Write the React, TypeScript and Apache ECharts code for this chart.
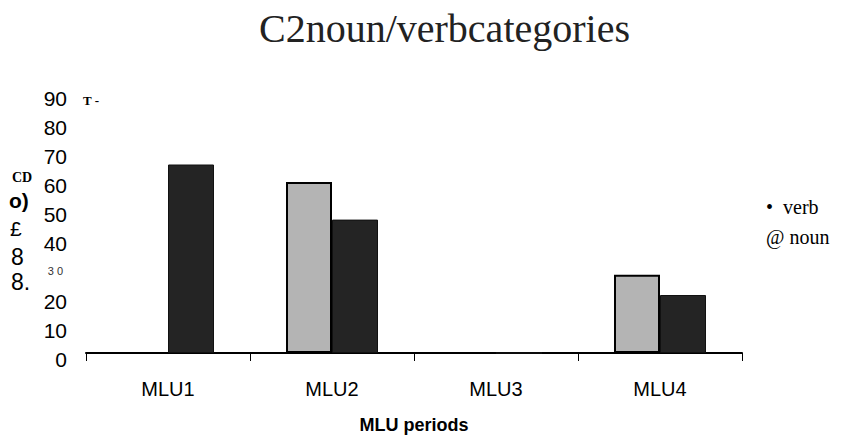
import React, { useEffect, useRef } from "react";
import * as echarts from "echarts";

const categories = ["MLU1", "MLU2", "MLU3", "MLU4"];
const nounValues = [0, 59, 0, 27];
const verbValues = [65, 46, 0, 20];
const yMin = 0;
const yMax = 90;
const yStep = 10;
const titleText = "C2noun/verbcategories";
const xAxisTitle = "MLU periods";
const yAxisGlyphs = ["CD", "o)", "£", "8", "8."];
const topMarkText = "T -";

export default function App() {
  const ref = useRef<HTMLDivElement>(null);
  useEffect(() => {
    document.body.style.margin = "0";
    const chart = echarts.init(ref.current!, undefined, { renderer: "svg" });
    const sans = "Liberation Sans, Arial, sans-serif";
    const serif = "Liberation Serif, Times New Roman, serif";
    chart.setOption({
      animation: false,
      backgroundColor: "#ffffff",
      title: {
        text: titleText,
        left: 254,
        top: 3,
        textStyle: { fontFamily: serif, fontSize: 40, fontWeight: "normal", color: "#222" },
      },
      legend: {
        orient: "vertical",
        left: 756,
        top: 192,
        icon: "none",
        itemWidth: 0,
        itemHeight: 0,
        itemGap: 10,
        data: ["verb", "noun"],
        formatter: (n: string) => (n === "verb" ? "•  verb" : "@ noun"),
        textStyle: { fontFamily: serif, fontSize: 20, color: "#000" },
      },
      grid: { left: 86, right: 102, top: 92, bottom: 92, containLabel: false },
      xAxis: {
        type: "category",
        data: categories,
        axisLine: { show: true, lineStyle: { color: "#000", width: 2 } },
        axisTick: { show: true, length: 8, lineStyle: { color: "#000" } },
        axisLabel: { fontFamily: sans, fontSize: 20, color: "#000", margin: 26 },
        name: xAxisTitle,
        nameLocation: "middle",
        nameGap: 63,
        nameTextStyle: { fontFamily: sans, fontSize: 18, fontWeight: "bold", color: "#000" },
      },
      yAxis: {
        type: "value",
        min: yMin,
        max: yMax,
        interval: yStep,
        axisLine: { show: false },
        axisTick: { show: false },
        splitLine: { show: false },
        axisLabel: {
          fontFamily: sans,
          fontSize: 21,
          color: "#000",
          margin: 19,
          padding: [12, 0, 0, 0],
          formatter: (v: number) => (v === 30 ? "{s|3 0}" : String(v)),
          rich: { s: { fontSize: 11, fontFamily: sans, color: "#333", padding: [0, 4, 2, 0] } },
        },
      },
      series: [
        {
          name: "noun",
          type: "bar",
          data: nounValues,
          barWidth: 46,
          barGap: "0%",
          itemStyle: { color: "#b4b4b4", borderColor: "#000", borderWidth: 2 },
        },
        {
          name: "verb",
          type: "bar",
          data: verbValues,
          barWidth: 46,
          barGap: "0%",
          itemStyle: { color: "#242424", borderColor: "#111", borderWidth: 1 },
        },
      ],
      graphic: [
        {
          type: "text",
          left: 83,
          top: 94,
          style: { text: topMarkText, font: "bold 13px " + serif, fill: "#000" },
        },
        {
          type: "text",
          left: 12,
          top: 170,
          style: { text: yAxisGlyphs[0], font: "bold 14px " + serif, fill: "#000" },
        },
        {
          type: "text",
          left: 9,
          top: 190,
          style: { text: yAxisGlyphs[1], font: "bold 21px " + sans, fill: "#000" },
        },
        {
          type: "text",
          left: 10,
          top: 218,
          style: { text: yAxisGlyphs[2], font: "21px " + sans, fill: "#000" },
        },
        {
          type: "text",
          left: 11,
          top: 245,
          style: { text: yAxisGlyphs[3], font: "23px " + sans, fill: "#000" },
        },
        {
          type: "text",
          left: 11,
          top: 270,
          style: { text: yAxisGlyphs[4], font: "23px " + sans, fill: "#000" },
        },
      ],
    });
    return () => chart.dispose();
  }, []);
  return <div ref={ref} style={{ width: 844, height: 445 }} />;
}
